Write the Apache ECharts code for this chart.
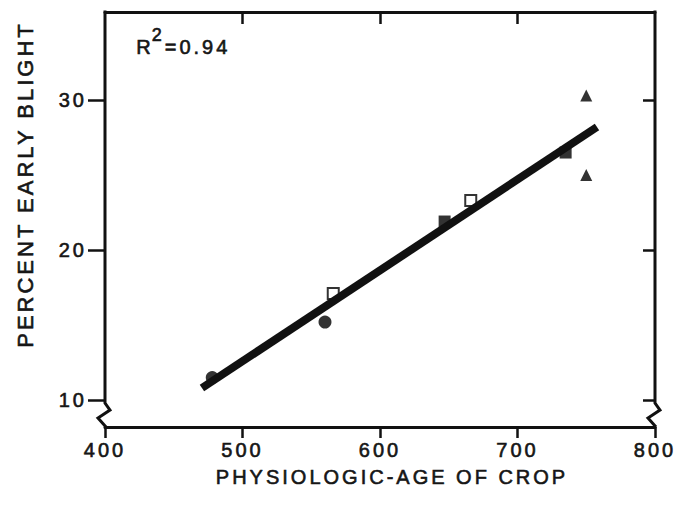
<!DOCTYPE html>
<html>
<head>
<meta charset="utf-8">
<script src="https://cdn.jsdelivr.net/npm/echarts@6/dist/echarts.min.js"></script>
<style>
  html, body { margin: 0; padding: 0; background: #fff; }
  #main { width: 693px; height: 512px; }
  /* the scanned figure uses widely spaced lettering */
  #main text { letter-spacing: 3px; }
</style>
</head>
<body>
<div id="main"></div>
<script>
// 数据
var circles = [[478, 11.5], [560, 15.2]];          // filled circles
var openSquares = [[566, 17.1], [666, 23.3]];      // open squares
var filledSquares = [[647, 21.9], [735, 26.5]];    // filled squares
var triangles = [[750, 30.3], [750, 25.0]];        // filled triangles
var fitLine = [[470.5, 10.8], [757.8, 28.2]];      // regression line ends
var xTicks = [400, 500, 600, 700, 800];
var yTicks = [10, 20, 30];
var xMin = 400, xMax = 800;
var yMin = 8.2, yMax = 35.87;

var ink = '#111';
var textColor = '#161616';
var font = 'Liberation Sans';
// 扫描件的字比较粗，用描边加粗一点
var thick = { textBorderColor: textColor, textBorderWidth: 0.6 };
var thickRich = { stroke: textColor, lineWidth: 0.6 };

var chart = echarts.init(document.getElementById('main'), null, { renderer: 'svg' });

var option = {
    backgroundColor: '#fff',
    animation: false,
    grid: { left: 105, right: 38, top: 12, bottom: 85 },
    xAxis: [
        {
            type: 'value',
            position: 'bottom',
            min: xMin,
            max: xMax,
            interval: 100,
            splitLine: { show: false },
            axisLine: { lineStyle: { color: ink, width: 3 } },
            axisTick: { length: 11, lineStyle: { color: ink, width: 2.5 } },
            axisLabel: Object.assign({ color: textColor, fontSize: 20, fontFamily: font, margin: 13 }, thick),
            name: 'PHYSIOLOGIC-AGE OF CROP',
            nameLocation: 'middle',
            nameGap: 40,
            nameTextStyle: Object.assign({ color: textColor, fontSize: 20, fontFamily: font, padding: [0, 0, 0, 24] }, thick)
        },
        {
            type: 'value',
            position: 'top',
            min: xMin,
            max: xMax,
            splitLine: { show: false },
            axisLine: { lineStyle: { color: ink, width: 3 } },
            axisTick: { inside: true, length: 12, customValues: [500, 600, 700], lineStyle: { color: ink, width: 2.5 } },
            axisLabel: { show: false }
        }
    ],
    yAxis: [
        {
            type: 'value',
            position: 'left',
            min: yMin,
            max: yMax,
            splitLine: { show: false },
            axisLine: { show: false },
            axisTick: { show: true, length: 17, customValues: yTicks, lineStyle: { color: ink, width: 2.5 } },
            axisLabel: Object.assign({ color: textColor, fontSize: 20, fontFamily: font, margin: 18, customValues: yTicks }, thick),
            name: 'PERCENT EARLY BLIGHT',
            nameLocation: 'middle',
            nameGap: 69,
            nameTextStyle: Object.assign({ color: textColor, fontSize: 22, fontFamily: font, padding: [0, 0, 0, 70] }, thick)
        },
        {
            type: 'value',
            position: 'right',
            min: yMin,
            max: yMax,
            splitLine: { show: false },
            axisLine: { show: false },
            axisTick: { show: true, inside: true, length: 12, customValues: yTicks, lineStyle: { color: ink, width: 2.5 } },
            axisLabel: { show: false }
        }
    ],
    series: [
        {
            type: 'scatter',
            data: circles,
            symbol: 'circle',
            symbolSize: 13,
            itemStyle: { color: '#000' }
        },
        {
            type: 'scatter',
            data: openSquares,
            symbol: 'rect',
            symbolSize: 11,
            itemStyle: { color: '#fff', borderColor: '#000', borderWidth: 2 }
        },
        {
            type: 'scatter',
            data: filledSquares,
            symbol: 'rect',
            symbolSize: 12,
            itemStyle: { color: '#000' }
        },
        {
            type: 'scatter',
            data: triangles,
            symbol: 'triangle',
            symbolSize: 12,
            itemStyle: { color: '#000' }
        },
        {
            type: 'line',
            data: fitLine,
            symbol: 'none',
            z: 5,
            lineStyle: { color: ink, width: 8, cap: 'butt' }
        }
    ]
};

chart.setOption(option);

// 画左右两条带折断号的纵轴 + R2 标注
function drawFrame() {
    var p = function (x, y) { return chart.convertToPixel({ gridIndex: 0 }, [x, y]); };
    var tl = p(xMin, yMax), l10 = p(xMin, 10), bl = p(xMin, yMin);
    var tr = p(xMax, yMax), r10 = p(xMax, 10), br = p(xMax, yMin);

    function breakLine(top, at10, bottom) {
        var x = top[0];
        return [
            [x, top[1] - 1.5],
            [x, at10[1] + 3],
            [x + 5, at10[1] + 10],
            [x - 7, at10[1] + 18],
            [x + 1, bottom[1]]
        ];
    }

    chart.setOption({
        graphic: [
            {
                type: 'polyline',
                shape: { points: breakLine(tl, l10, bl) },
                style: { stroke: ink, lineWidth: 3, fill: null },
                z: 10
            },
            {
                type: 'polyline',
                shape: { points: breakLine(tr, r10, br) },
                style: { stroke: ink, lineWidth: 3, fill: null },
                z: 10
            },
            {
                type: 'text',
                left: 136,
                top: 26,
                z: 10,
                style: {
                    text: '{r|R}{s|2}{e|=0.94}',
                    rich: {
                        r: Object.assign({ fontSize: 20, fontFamily: font, fill: textColor, lineHeight: 31, verticalAlign: 'bottom' }, thickRich),
                        s: Object.assign({ fontSize: 18, fontFamily: font, fill: textColor, lineHeight: 31, verticalAlign: 'top', padding: [0, 3, 0, 1] }, thickRich),
                        e: Object.assign({ fontSize: 20, fontFamily: font, fill: textColor, lineHeight: 31, verticalAlign: 'bottom' }, thickRich)
                    }
                }
            }
        ]
    });
}
drawFrame();
</script>
</body>
</html>
